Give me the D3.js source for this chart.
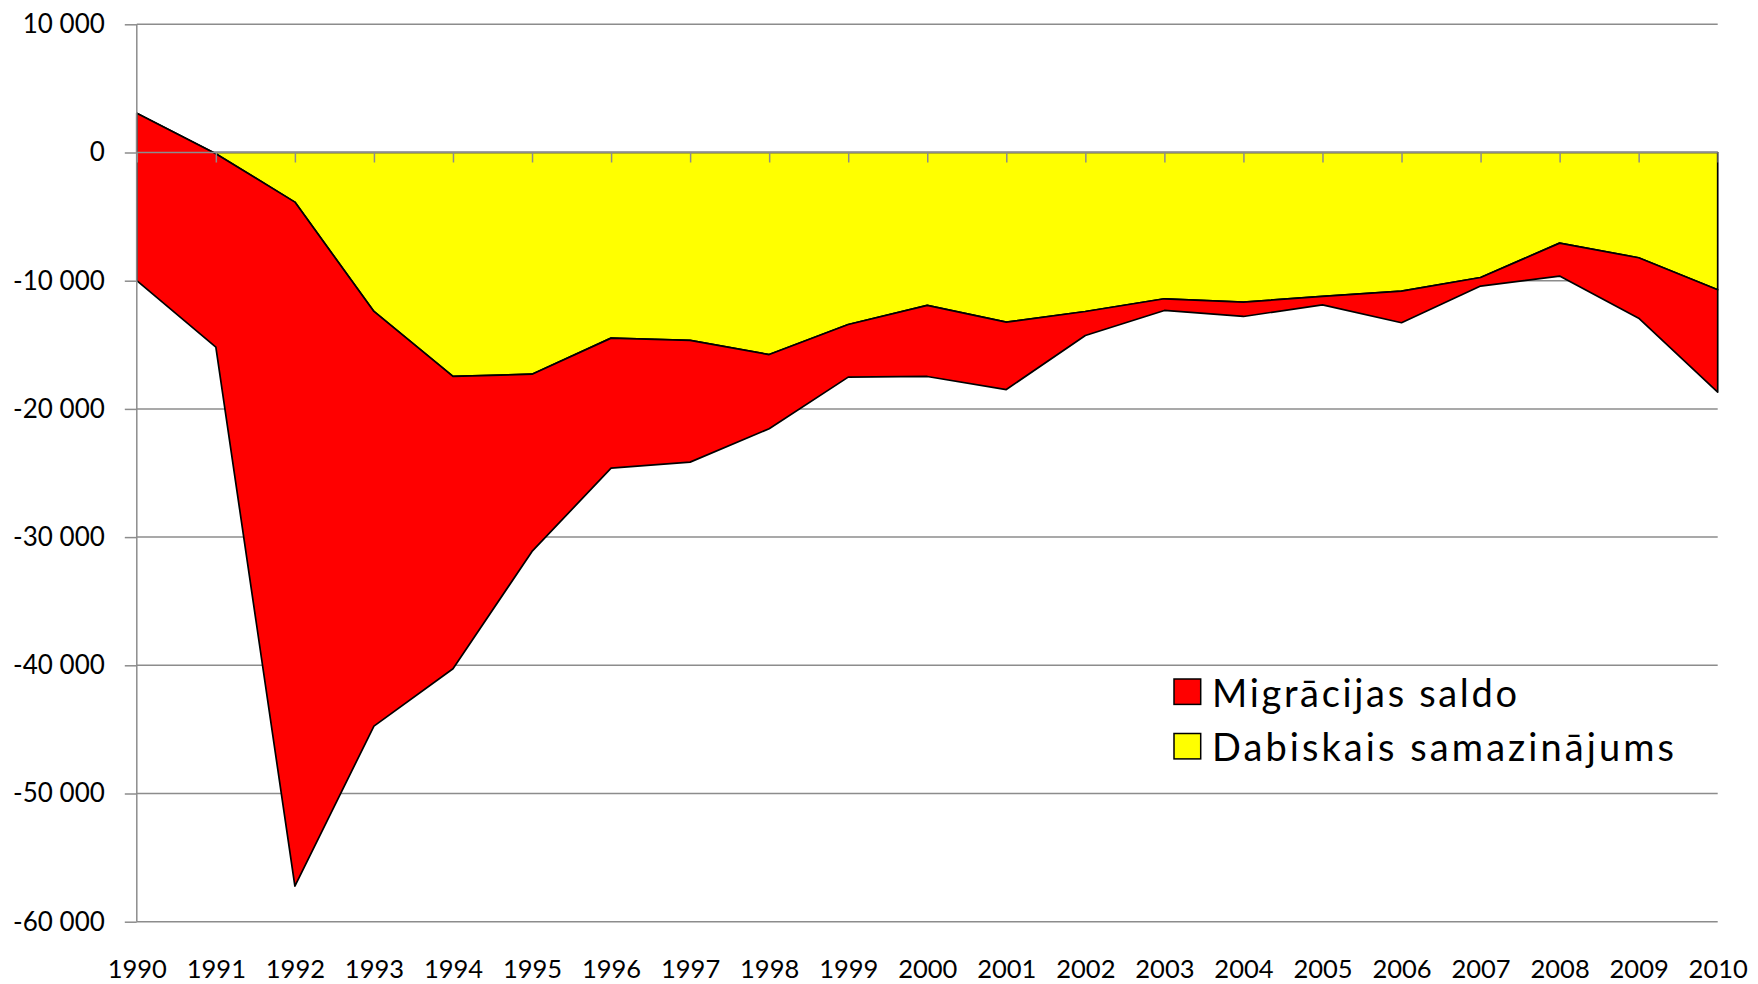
<!DOCTYPE html>
<html>
<head>
<meta charset="utf-8">
<script src="https://cdn.jsdelivr.net/npm/d3@7"></script>
<style>
  html, body { margin: 0; padding: 0; background: #fff; }
  svg { display: block; }
  text { font-family: Lato, "Open Sans", sans-serif; fill: #000; }
</style>
</head>
<body>
<svg id="chart" width="1758" height="984"></svg>
<script>
// ---- data ----
const years = [1990, 1991, 1992, 1993, 1994, 1995, 1996, 1997, 1998, 1999, 2000,
               2001, 2002, 2003, 2004, 2005, 2006, 2007, 2008, 2009, 2010];
// Dabiskais samazinājums (natural change)
const naturalChange = [3070, -100, -3870, -12400, -17470, -17290, -14480, -14660, -15760, -13420, -11930,
                       -13230, -12400, -11410, -11670, -11230, -10810, -9750, -7070, -8210, -10710];
// Migrācijas saldo (net migration)
const netMigration = [-13060, -15080, -53350, -32340, -22800, -13830, -10140, -9490, -5790, -4100, -5540,
                      -5260, -1870, -910, -1120, -650, -2470, -670, -2570, -4710, -7980];
const yTickValues = [10000, 0, -10000, -20000, -30000, -40000, -50000, -60000];
const yTickLabels = ["10 000", "0", "-10 000", "-20 000", "-30 000", "-40 000", "-50 000", "-60 000"];
const seriesNames = ["Migrācijas saldo", "Dabiskais samazinājums"];
const seriesColors = ["#ff0000", "#ffff00"];

// ---- layout ----
const svg = d3.select("#chart");
const pLeft = 136.8, pRight = 1717.7, pTop = 24.3, pBottom = 921.7;

const x = d3.scalePoint().domain(years).range([pLeft, pRight]);
const y = d3.scaleLinear().domain([-60000, 10000]).range([pBottom, pTop]);

const rows = years.map((yr, i) => ({ year: yr, nat: naturalChange[i], mig: netMigration[i] }));
const stack = d3.stack().keys(["nat", "mig"]).offset(d3.stackOffsetNone);
const layers = stack(rows);

const gridColor = "#8c8c8c";

// gridlines
svg.append("g")
  .selectAll("line")
  .data(yTickValues)
  .join("line")
  .attr("x1", pLeft).attr("x2", pRight)
  .attr("y1", d => y(d)).attr("y2", d => y(d))
  .attr("stroke", gridColor).attr("stroke-width", 1.5);

// areas
const area = d3.area()
  .x(d => x(d.data.year))
  .y0(d => y(d[0]))
  .y1(d => y(d[1]));

svg.append("g")
  .selectAll("path")
  .data(layers)
  .join("path")
  .attr("d", area)
  .attr("fill", (d, i) => i === 0 ? seriesColors[1] : seriesColors[0])
  .attr("stroke", "#000")
  .attr("stroke-width", 1.7)
  .attr("stroke-linejoin", "round");

// y axis
const yAxis = d3.axisLeft(y)
  .tickValues(yTickValues)
  .tickFormat((d, i) => yTickLabels[i])
  .tickSize(12)
  .tickPadding(20);
const gy = svg.append("g").attr("transform", `translate(${pLeft},0)`).call(yAxis);
gy.select(".domain").attr("stroke", gridColor).attr("stroke-width", 1.5)
  .attr("d", `M0,${pTop}V${pBottom}`);
gy.selectAll(".tick line").attr("stroke", gridColor).attr("stroke-width", 1.5);
gy.selectAll(".tick text").style("font-family", "Lato").style("font-size", "26px").attr("fill", "#000");

// x axis at zero (line + ticks)
const xAxisZero = d3.axisBottom(x).tickSize(10).tickFormat("");
const gx0 = svg.append("g").attr("transform", `translate(0,${y(0)})`).call(xAxisZero);
gx0.select(".domain").attr("stroke", gridColor).attr("stroke-width", 1.5)
  .attr("d", `M${pLeft},0H${pRight}`);
gx0.selectAll(".tick line").attr("stroke", gridColor).attr("stroke-width", 1.5);

// x labels at bottom
const xLabels = d3.axisBottom(x).tickSize(0).tickPadding(0);
const gxl = svg.append("g").attr("transform", `translate(0,0)`).call(xLabels);
gxl.select(".domain").remove();
gxl.selectAll(".tick text").style("font-family", "Lato").style("font-size", "25.5px")
  .attr("fill", "#000").attr("y", 978).attr("dy", null);

// legend
const legend = svg.append("g");
const legendY = [691.7, 746.2];
const legendTextLen = [305, 462];
seriesNames.forEach((name, i) => {
  const g = legend.append("g").attr("transform", `translate(1174,${legendY[i]})`);
  g.append("rect").attr("x", 0).attr("y", -12.7).attr("width", 26.7).attr("height", 25.4)
    .attr("fill", seriesColors[i]).attr("stroke", "#000").attr("stroke-width", 1.5);
  g.append("text").attr("x", 38).attr("y", 15)
    .style("font-size", "38px")
    .attr("textLength", legendTextLen[i]).attr("lengthAdjust", "spacing")
    .text(name);
});
</script>
</body>
</html>
